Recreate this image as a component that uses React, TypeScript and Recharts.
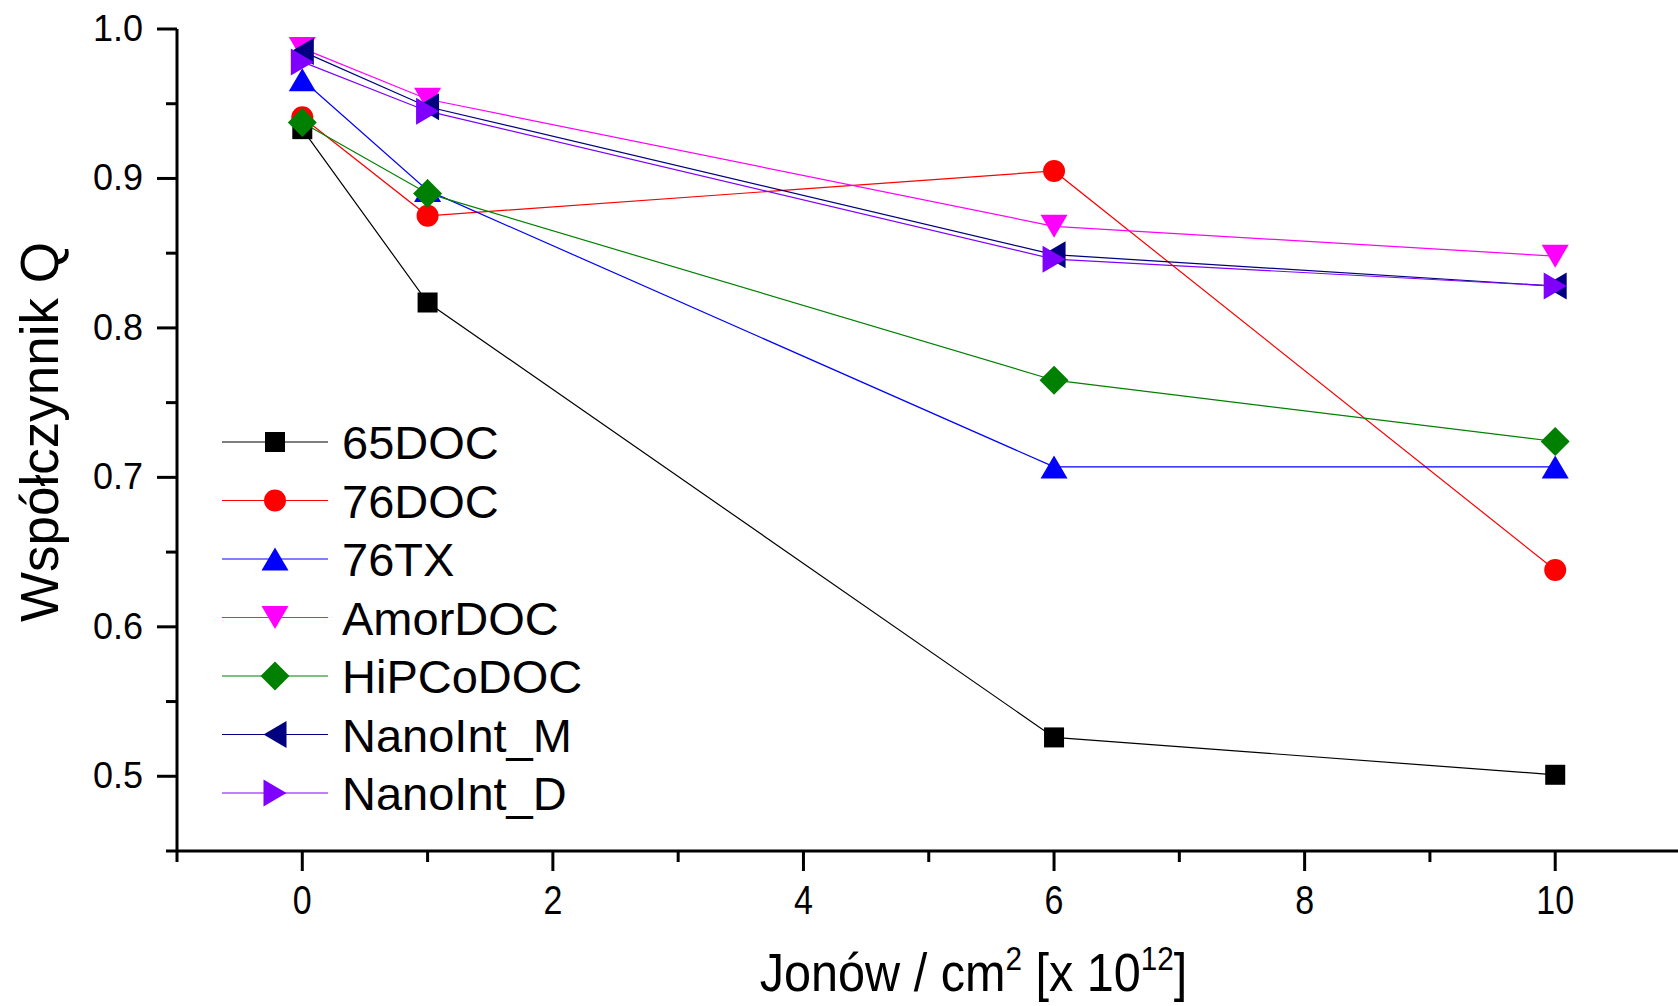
import React from 'react';
import { LineChart, Line, XAxis, YAxis, Legend } from 'recharts';

// ---- data ----
const xValues = [0, 1, 6, 10];
const seriesNames = ['65DOC', '76DOC', '76TX', 'AmorDOC', 'HiPCoDOC', 'NanoInt_M', 'NanoInt_D'];
const s65DOC = [0.933, 0.817, 0.526, 0.501];
const s76DOC = [0.941, 0.875, 0.905, 0.638];
const s76TX = [0.966, 0.892, 0.707, 0.707];
const sAmorDOC = [0.987, 0.953, 0.868, 0.848];
const sHiPCoDOC = [0.9375, 0.89, 0.765, 0.724];
const sNanoIntM = [0.985, 0.948, 0.849, 0.828];
const sNanoIntD = [0.978, 0.945, 0.846, 0.828];
const seriesValues = [s65DOC, s76DOC, s76TX, sAmorDOC, sHiPCoDOC, sNanoIntM, sNanoIntD];

const xTicks = [-1, 0, 1, 2, 3, 4, 5, 6, 7, 8, 9, 10];
const xLabelTicks = [0, 2, 4, 6, 8, 10];
const yTicks = [0.45, 0.5, 0.55, 0.6, 0.65, 0.7, 0.75, 0.8, 0.85, 0.9, 0.95, 1.0];
const yLabelTicks = ['0.5', '0.6', '0.7', '0.8', '0.9', '1.0'];

const xTitle = 'Jonów / cm';
const yTitle = 'Współczynnik Q';

// ---- styles ----
const colors = ['#000000', '#ff0000', '#0000ff', '#ff00ff', '#008000', '#000080', '#8000ff'];
const shapes = ['square', 'circle', 'up', 'down', 'diamond', 'left', 'right'];
const FONT = 'Liberation Sans, Arial, Helvetica, sans-serif';

const data = xValues.map((x, i) => {
  const row: any = { x };
  seriesNames.forEach((n, k) => {
    row[n] = seriesValues[k][i];
  });
  return row;
});

function Marker({ shape, cx, cy, color }: { shape: string; cx: number; cy: number; color: string }) {
  if (cx == null || cy == null) return null;
  switch (shape) {
    case 'square':
      return <rect x={cx - 10} y={cy - 10} width={20} height={20} fill={color} />;
    case 'circle':
      return <circle cx={cx} cy={cy} r={11} fill={color} />;
    case 'up': {
      const w = 27, h = 23;
      return <polygon points={`${cx},${cy - h / 2} ${cx + w / 2},${cy + h / 2} ${cx - w / 2},${cy + h / 2}`} fill={color} />;
    }
    case 'down': {
      const w = 27, h = 23;
      return <polygon points={`${cx},${cy + h / 2} ${cx + w / 2},${cy - h / 2} ${cx - w / 2},${cy - h / 2}`} fill={color} />;
    }
    case 'diamond': {
      const w = 29, h = 29;
      return <polygon points={`${cx},${cy - h / 2} ${cx + w / 2},${cy} ${cx},${cy + h / 2} ${cx - w / 2},${cy}`} fill={color} />;
    }
    case 'left': {
      const w = 23, h = 27;
      return <polygon points={`${cx - w / 2},${cy} ${cx + w / 2},${cy - h / 2} ${cx + w / 2},${cy + h / 2}`} fill={color} />;
    }
    case 'right': {
      const w = 23, h = 27;
      return <polygon points={`${cx + w / 2},${cy} ${cx - w / 2},${cy - h / 2} ${cx - w / 2},${cy + h / 2}`} fill={color} />;
    }
    default:
      return null;
  }
}

function XTick(props: any) {
  const { x, y, payload } = props;
  const v = payload.value;
  const major = xLabelTicks.includes(v);
  return (
    <g>
      <line x1={x} x2={x} y1={y} y2={y + (major ? 20 : 11)} stroke="#000" strokeWidth={3} />
      {major && (
        <text
          transform={`translate(${x},${y + 63}) scale(0.85,1)`}
          textAnchor="middle"
          fontFamily={FONT}
          fontSize={40}
          fill="#000"
        >
          {String(v)}
        </text>
      )}
    </g>
  );
}

function YTick(props: any) {
  const { x, y, payload } = props;
  const v = payload.value;
  const label = Number(v).toFixed(1);
  const major = yLabelTicks.includes(label) && Math.abs(v * 10 - Math.round(v * 10)) < 1e-6;
  return (
    <g>
      <line x1={x - (major ? 20 : 11)} x2={x} y1={y} y2={y} stroke="#000" strokeWidth={3} />
      {major && (
        <text x={x - 34} y={y + 12} textAnchor="end" fontFamily={FONT} fontSize={36} fill="#000">
          {label}
        </text>
      )}
    </g>
  );
}

function XTitle(props: any) {
  const vb = props.viewBox || { x: 177, y: 851, width: 1501, height: 155 };
  const cx = vb.x + vb.width / 2 + 46;
  const by = vb.y + 140;
  return (
    <text
      transform={`translate(${cx},${by}) scale(0.9,1)`}
      textAnchor="middle"
      fontFamily={FONT}
      fontSize={54}
      fill="#000"
    >
      {xTitle}
      <tspan fontSize={33} dy={-21}>2</tspan>
      <tspan fontSize={54} dy={21}>{' [x 10'}</tspan>
      <tspan fontSize={33} dy={-21}>12</tspan>
      <tspan fontSize={54} dy={21}>]</tspan>
    </text>
  );
}

function YTitle() {
  const cy = 432;
  return (
    <text
      transform={`translate(58,${cy}) rotate(-90)`}
      textAnchor="middle"
      fontFamily={FONT}
      fontSize={53}
      fill="#000"
    >
      {yTitle}
    </text>
  );
}

function LegendBox() {
  const ox = 200, oy = 400;
  const rowY0 = 442, step = 58.5;
  return (
    <svg width={440} height={440} style={{ display: 'block', overflow: 'visible' }}>
      {seriesNames.map((name, i) => {
        const y = rowY0 + i * step - oy;
        return (
          <g key={name}>
            <line x1={222 - ox} x2={328 - ox} y1={y} y2={y} stroke={colors[i]} strokeWidth={1.2} />
            <Marker shape={shapes[i]} cx={275 - ox} cy={y} color={colors[i]} />
            <text x={342 - ox} y={y + 17} fontFamily={FONT} fontSize={47} fill="#000">
              {name}
            </text>
          </g>
        );
      })}
    </svg>
  );
}

export default function App() {
  return (
    <div style={{ position: 'absolute', left: 0, top: 0, width: 1678, height: 1006, overflow: 'hidden', background: '#fff' }}>
      <LineChart width={1678} height={1006} data={data} margin={{ top: 29, right: 0, bottom: 0, left: 0 }}>
        <XAxis
          dataKey="x"
          type="number"
          domain={[-1, 10.98]}
          allowDataOverflow
          ticks={xTicks}
          interval={0}
          tickSize={0}
          tickMargin={0}
          tickLine={false}
          axisLine={{ stroke: '#000', strokeWidth: 3 }}
          tick={<XTick />}
          height={155}
          label={<XTitle />}
        />
        <YAxis
          type="number"
          domain={[0.45, 1.0]}
          allowDataOverflow
          ticks={yTicks}
          interval={0}
          tickSize={0}
          tickMargin={0}
          tickLine={false}
          axisLine={{ stroke: '#000', strokeWidth: 3 }}
          tick={<YTick />}
          width={177}
          label={<YTitle />}
        />
        {seriesNames.map((name, i) => (
          <Line
            key={name}
            type="linear"
            dataKey={name}
            stroke={colors[i]}
            strokeWidth={1.2}
            isAnimationActive={false}
            dot={(p: any) => (
              <g key={`${name}-${p.index}`}>
                <Marker shape={shapes[i]} cx={p.cx} cy={p.cy} color={colors[i]} />
              </g>
            )}
            activeDot={false}
          />
        ))}
        <Legend
          layout="vertical"
          align="center"
          verticalAlign="middle"
          wrapperStyle={{ position: 'absolute', left: 200, top: 400, width: 440, height: 440 }}
          content={() => <LegendBox />}
        />
      </LineChart>
    </div>
  );
}
